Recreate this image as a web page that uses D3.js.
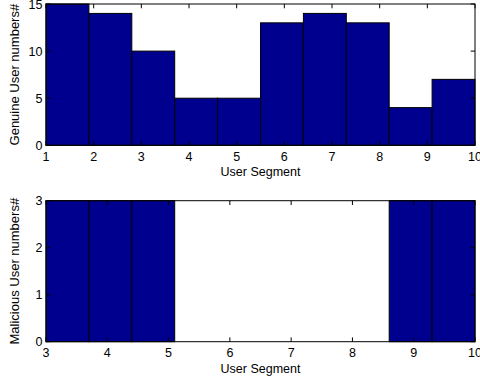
<!DOCTYPE html>
<html>
<head>
<meta charset="utf-8">
<script src="https://cdn.jsdelivr.net/npm/d3@7"></script>
<style>
  html, body { margin: 0; padding: 0; background: #fff; }
  svg { display: block; }
  text { font-family: "Liberation Sans", Arial, Helvetica, sans-serif; fill: #000; }
</style>
</head>
<body>
<svg id="chart" width="480" height="381"></svg>
<script>
// Histogram counts per user segment bin
const genuineCounts = [15, 14, 10, 5, 5, 13, 14, 13, 4, 7];
const genuineRange = [1, 10];
const genuineXTicks = [1, 2, 3, 4, 5, 6, 7, 8, 9, 10];
const genuineYTicks = [0, 5, 10, 15];

const maliciousCounts = [3, 3, 3, 0, 0, 0, 0, 0, 3, 3];
const maliciousRange = [3, 10];
const maliciousXTicks = [3, 4, 5, 6, 7, 8, 9, 10];
const maliciousYTicks = [0, 1, 2, 3];

const xLabel = "User Segment";
const barFill = "#00008f";

const svg = d3.select("#chart");

function drawPanel(cfg) {
  const { counts, range, xTicks, yTicks, yLabel, top, bottom, left, right } = cfg;
  const n = counts.length;
  const step = (range[1] - range[0]) / n;
  const bins = counts.map((c, i) => ({ x0: range[0] + i * step, x1: range[0] + (i + 1) * step, c }));

  const x = d3.scaleLinear().domain(range).range([left, right]);
  const y = d3.scaleLinear().domain([0, d3.max(yTicks)]).range([bottom, top]);

  const g = svg.append("g");

  // bars (zero-height bins collapse to an edge line on the baseline)
  g.selectAll("rect.bar").data(bins).enter().append("rect")
    .attr("class", "bar")
    .attr("x", d => x(d.x0))
    .attr("y", d => y(d.c))
    .attr("width", d => x(d.x1) - x(d.x0))
    .attr("height", d => y(0) - y(d.c))
    .attr("fill", barFill)
    .attr("stroke", "#000")
    .attr("stroke-width", d => d.c === 0 ? 2 : 1);

  // axes box
  g.append("rect")
    .attr("x", left).attr("y", top)
    .attr("width", right - left).attr("height", bottom - top)
    .attr("fill", "none").attr("stroke", "#000").attr("stroke-width", 1);

  const tl = 4.3;
  // x ticks, inward on bottom and top edges
  xTicks.forEach(t => {
    const px = x(t);
    g.append("line").attr("x1", px).attr("x2", px).attr("y1", bottom).attr("y2", bottom - tl)
      .attr("stroke", "#000");
    g.append("line").attr("x1", px).attr("x2", px).attr("y1", top).attr("y2", top + tl)
      .attr("stroke", "#000");
    g.append("text").attr("x", px).attr("y", bottom + 15.5)
      .attr("text-anchor", "middle").attr("font-size", 12.5).text(t);
  });
  // y ticks, inward on left and right edges
  yTicks.forEach(t => {
    const py = y(t);
    g.append("line").attr("x1", left).attr("x2", left + tl).attr("y1", py).attr("y2", py)
      .attr("stroke", "#000");
    g.append("line").attr("x1", right).attr("x2", right - tl).attr("y1", py).attr("y2", py)
      .attr("stroke", "#000");
    g.append("text").attr("x", left - 3.5).attr("y", py + 4.5)
      .attr("text-anchor", "end").attr("font-size", 12.5).text(t);
  });

  g.append("text")
    .attr("x", (left + right) / 2).attr("y", bottom + 31)
    .attr("text-anchor", "middle").attr("font-size", 12.5).text(xLabel);

  g.append("text")
    .attr("transform", `translate(19,${(top + bottom) / 2}) rotate(-90)`)
    .attr("text-anchor", "middle").attr("font-size", 13).text(yLabel);
}

drawPanel({
  counts: genuineCounts, range: genuineRange, xTicks: genuineXTicks, yTicks: genuineYTicks,
  yLabel: "Genuine User numbers#", top: 4, bottom: 145.3, left: 46, right: 475
});
drawPanel({
  counts: maliciousCounts, range: maliciousRange, xTicks: maliciousXTicks, yTicks: maliciousYTicks,
  yLabel: "Malicious User numbers#", top: 200.7, bottom: 341.7, left: 46, right: 475
});
</script>
</body>
</html>
